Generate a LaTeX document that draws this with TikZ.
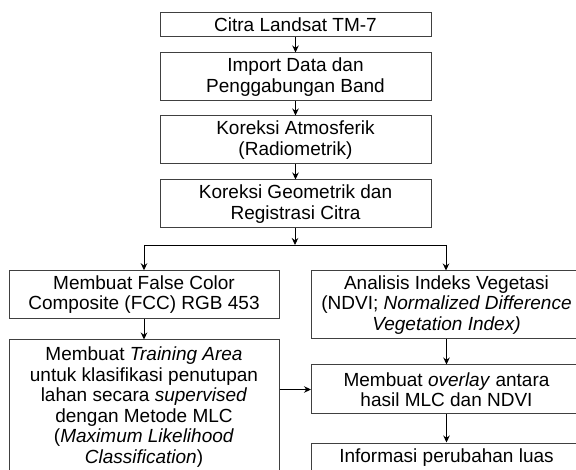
\documentclass[tikz,border=0pt]{standalone}
\usepackage{fontspec}
\setmainfont{Liberation Sans}
\usetikzlibrary{arrows.meta}
\definecolor{ln}{HTML}{404040}
\tikzset{
  box/.style={draw=ln, line width=1pt, inner sep=2pt, align=center,
    font=\fontsize{19}{20.5}\selectfont, text=black},
  arr/.style={draw=black, line width=0.9pt, -{Stealth[length=7pt,width=6.5pt]}},
  ln/.style={draw=black, line width=0.9pt}
}
\begin{document}
\begin{tikzpicture}[x=1pt,y=-1pt]
\useasboundingbox (0,0) rectangle (576,470);
\clip (0,0) rectangle (576,470);
\node[box, minimum width=271, minimum height=24.5] (b1) at (295.5,24.3) {Citra Landsat TM-7};
\node[box, minimum width=271, minimum height=48] (b2) at (295.5,77) {Import Data dan\\Penggabungan Band};
\node[box, minimum width=271, minimum height=48] (b3) at (295.5,140) {Koreksi Atmosferik\\(Radiometrik)};
\node[box, minimum width=271, minimum height=48] (b4) at (295.5,204) {Koreksi Geometrik dan\\Registrasi Citra};
\coordinate (j) at (295,245);
\coordinate (jl) at (144,245);
\coordinate (jr) at (446,245);
\node[box, minimum width=270, minimum height=47.5] (l1) at (144,294.5) {Membuat False Color\\Composite (FCC) RGB 453};
\node[box, minimum width=270, minimum height=134] (l2) at (144,407) {Membuat \textit{Training Area}\\untuk klasifikasi penutupan\\lahan secara \textit{supervised}\\dengan Metode MLC\\(\textit{Maximum Likelihood}\\\textit{Classification})};
\node[box, minimum width=270, minimum height=68] (r1) at (446.5,305) {Analisis Indeks Vegetasi\\(NDVI; \textit{Normalized Difference}\\\textit{Vegetation Index)}};
\node[box, minimum width=270, minimum height=49] (r2) at (446.5,389.5) {Membuat \textit{overlay} antara\\hasil MLC dan NDVI};
\node[box, minimum width=270, anchor=base, text height=16, text depth=30, inner sep=3pt] (r3) at (446.5,462) {Informasi perubahan luas};
\draw[arr] (b1) -- (b2);
\draw[arr] (b2) -- (b3);
\draw[arr] (b3) -- (b4);
\draw[arr] (b4.south -| j) -- (j);
\draw[ln] (jl) -- (jr);
\draw[arr] (jl) -- (l1.north -| jl);
\draw[arr] (jr) -- (r1.north -| jr);
\draw[arr] (l1) -- (l2);
\draw[arr] (r1) -- (r2);
\draw[arr] (r2) -- (r3.north -| r2);
\draw[arr] (l2.east |- r2) -- (r2.west);
\end{tikzpicture}
\end{document}
